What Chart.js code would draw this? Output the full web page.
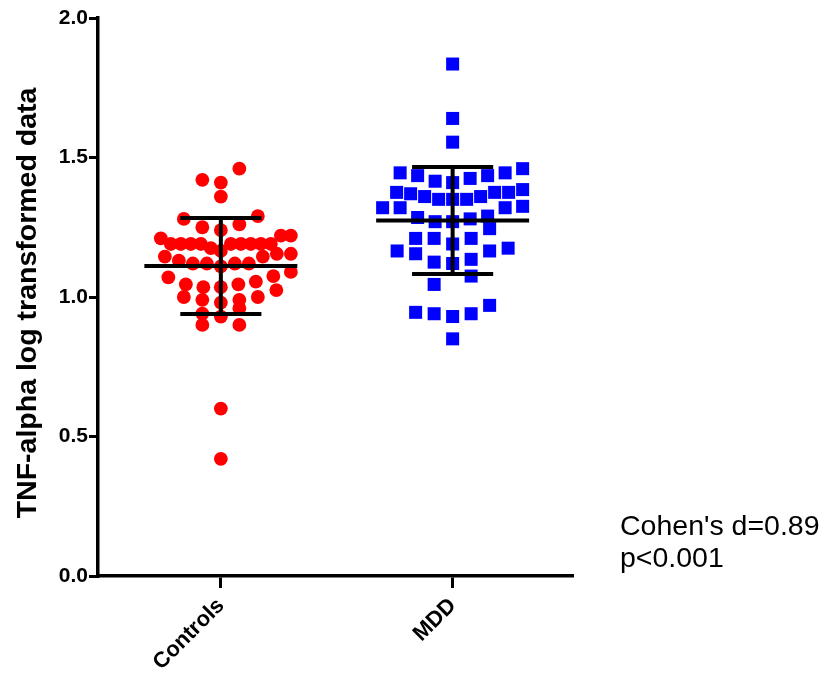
<!DOCTYPE html>
<html>
<head>
<meta charset="utf-8">
<script src="https://cdn.jsdelivr.net/npm/chart.js@4.4.1/dist/chart.umd.min.js"></script>
<style>
html,body{margin:0;padding:0;background:#ffffff;}
#wrap{width:829px;height:673px;position:relative;}
</style>
</head>
<body>
<div id="wrap"><canvas id="c" width="829" height="673"></canvas></div>
<script>
// ---- data ----
const categories = ["Controls", "MDD"];
const controlsValues = [
  1.46, 1.42, 1.41, 1.36, 1.29, 1.28, 1.26, 1.25, 1.24, 1.22, 1.22, 1.21,
  1.19, 1.19, 1.19, 1.19, 1.19, 1.19, 1.19, 1.19, 1.19,
  1.175, 1.165, 1.155, 1.155, 1.145, 1.145, 1.13,
  1.12, 1.12, 1.12, 1.12, 1.11, 1.09,
  1.075, 1.07, 1.055, 1.045, 1.045, 1.035, 1.035, 1.025,
  1.00, 1.00, 0.99, 0.99, 0.98,
  0.96, 0.94, 0.93, 0.90, 0.90,
  0.60, 0.42
];
const mddValues = [
  1.835, 1.64, 1.555,
  1.46, 1.445, 1.445, 1.435, 1.435, 1.425, 1.415, 1.41,
  1.385, 1.375, 1.375, 1.375, 1.37, 1.36, 1.36, 1.35, 1.35, 1.35,
  1.325, 1.32, 1.32, 1.32, 1.29, 1.285, 1.28, 1.27, 1.27,
  1.245, 1.21, 1.21, 1.21, 1.19, 1.175,
  1.165, 1.165, 1.155, 1.135, 1.125, 1.12,
  1.075, 1.045,
  0.97, 0.945, 0.94, 0.94, 0.93,
  0.85
];
const groupMeans = [1.111, 1.274];
const groupSDs = [0.172, 0.192];
const yTickValues = [0.0, 0.5, 1.0, 1.5, 2.0];
const yAxisTitle = "TNF-alpha log transformed data";
const statsLines = ["Cohen's d=0.89", "p<0.001"];

// ---- layout helpers ----
const FONT = '"Liberation Sans", Arial, Helvetica, sans-serif';
const MEAN_HALF = 0.33;   // half length of mean line (x units)
const CAP_HALF = 0.175;   // half length of SD caps (x units)

// GraphPad-like scatter arrangement: rows built greedily from the top,
// lowest value of a row in the centre, higher values towards the ends
function swarm(values, center, xUnitsPerPx) {
  const rowHeight = 0.06, basePx = 18.5, maxHalfPx = 70;
  const sorted = values.slice().sort((a, b) => b - a);
  const rows = [];
  let i = 0;
  while (i < sorted.length) {
    const top = sorted[i], row = [];
    while (i < sorted.length && sorted[i] > top - rowHeight + 1e-9) { row.push(sorted[i]); i++; }
    rows.push(row);
  }
  const pts = [];
  rows.forEach(row => {
    row.sort((a, b) => a - b);
    const n = row.length;
    let slots = [];
    if (n === 2) slots = [-1, 1];
    else for (let k = 0; slots.length < n; k++) {
      if (k === 0) slots.push(0);
      else { slots.push(-k); if (slots.length < n) slots.push(k); }
    }
    if (n % 2 === 0 && n > 2) slots[n - 1] = -slots[n - 1];
    const maxSlot = Math.max(...slots.map(Math.abs));
    const sp = maxSlot > 0 ? Math.min(basePx, maxHalfPx / maxSlot) : 0;
    row.forEach((v, j) => pts.push({x: center + slots[j] * sp * xUnitsPerPx, y: v}));
  });
  return pts;
}

function errorBarData(i) {
  const c = i + 1, m = groupMeans[i], s = groupSDs[i];
  return [
    {x: c - MEAN_HALF, y: m}, {x: c + MEAN_HALF, y: m}, {x: c, y: null},
    {x: c, y: m - s}, {x: c, y: m + s}, {x: c, y: null},
    {x: c - CAP_HALF, y: m + s}, {x: c + CAP_HALF, y: m + s}, {x: c, y: null},
    {x: c - CAP_HALF, y: m - s}, {x: c + CAP_HALF, y: m - s}
  ];
}

const textPlugin = {
  id: 'texts',
  afterDraw(chart) {
    const ctx = chart.ctx, a = chart.chartArea;
    ctx.save();
    ctx.fillStyle = '#000';
    ctx.save();
    ctx.translate(28, (a.top + a.bottom) / 2 + 6);
    ctx.rotate(-Math.PI / 2);
    ctx.font = 'bold 28.5px ' + FONT;
    ctx.textAlign = 'center';
    ctx.textBaseline = 'middle';
    ctx.fillText(yAxisTitle, 0, 0);
    ctx.restore();
    ctx.font = '28.5px ' + FONT;
    ctx.textAlign = 'left';
    ctx.textBaseline = 'alphabetic';
    ctx.fillText(statsLines[0], a.right + 48, 535);
    ctx.fillText(statsLines[1], a.right + 48, 567);
    ctx.restore();
  }
};

const chart = new Chart(document.getElementById('c'), {
  type: 'scatter',
  data: {
    datasets: [
      {
        label: categories[0],
        data: controlsValues.map(v => ({x: 1, y: v})),
        pointStyle: 'circle', pointRadius: 6.9, backgroundColor: '#ff0000',
        borderWidth: 0, order: 2
      },
      {
        label: categories[1],
        data: mddValues.map(v => ({x: 2, y: v})),
        pointStyle: 'rect', pointRadius: 9.2, backgroundColor: '#0000ff',
        borderWidth: 0, order: 2
      },
      {
        label: 'Mean ± SD ' + categories[0], data: errorBarData(0), showLine: true,
        spanGaps: false, pointRadius: 0, borderColor: '#000', borderWidth: 4,
        borderCapStyle: 'butt', order: 0
      },
      {
        label: 'Mean ± SD ' + categories[1], data: errorBarData(1), showLine: true,
        spanGaps: false, pointRadius: 0, borderColor: '#000', borderWidth: 4,
        borderCapStyle: 'butt', order: 0
      }
    ]
  },
  options: {
    responsive: false,
    devicePixelRatio: 1,
    animation: false,
    events: [],
    layout: {padding: {top: 18, right: 257, bottom: 0, left: 0}},
    plugins: {legend: {display: false}, tooltip: {enabled: false}},
    scales: {
      x: {
        type: 'linear', min: 0.47, max: 2.515,
        afterBuildTicks: s => { s.ticks = [{value: 1}, {value: 2}]; },
        afterFit: s => { s.height = 97; },
        ticks: {
          callback: v => categories[Math.round(v) - 1],
          minRotation: 45, maxRotation: 45, autoSkip: false,
          color: '#000', padding: 5,
          font: {family: FONT, size: 22, weight: 'bold'}
        },
        grid: {display: true, drawOnChartArea: false, drawTicks: true, tickLength: 12, lineWidth: 3, color: '#000'},
        border: {display: true, width: 3.5, color: '#000'}
      },
      y: {
        type: 'linear', min: 0, max: 2,
        afterBuildTicks: s => { s.ticks = yTickValues.map(v => ({value: v})); },
        afterFit: s => { s.width = 98; },
        ticks: {
          callback: v => Number(v).toFixed(1),
          color: '#000', padding: 1,
          font: {family: FONT, size: 21, weight: 'bold'}
        },
        grid: {display: true, drawOnChartArea: false, drawTicks: true, tickLength: 9, lineWidth: 3, color: '#000'},
        border: {display: true, width: 3.5, color: '#000'},
        title: {display: false}
      }
    }
  },
  plugins: [textPlugin]
});

// arrange the dots horizontally using the library's own scale
const xs = chart.scales.x;
const unitsPerPx = 1 / (xs.getPixelForValue(2) - xs.getPixelForValue(1));
chart.data.datasets[0].data = swarm(controlsValues, 1, unitsPerPx);
chart.data.datasets[1].data = swarm(mddValues, 2, unitsPerPx);
chart.update('none');
</script>
</body>
</html>
